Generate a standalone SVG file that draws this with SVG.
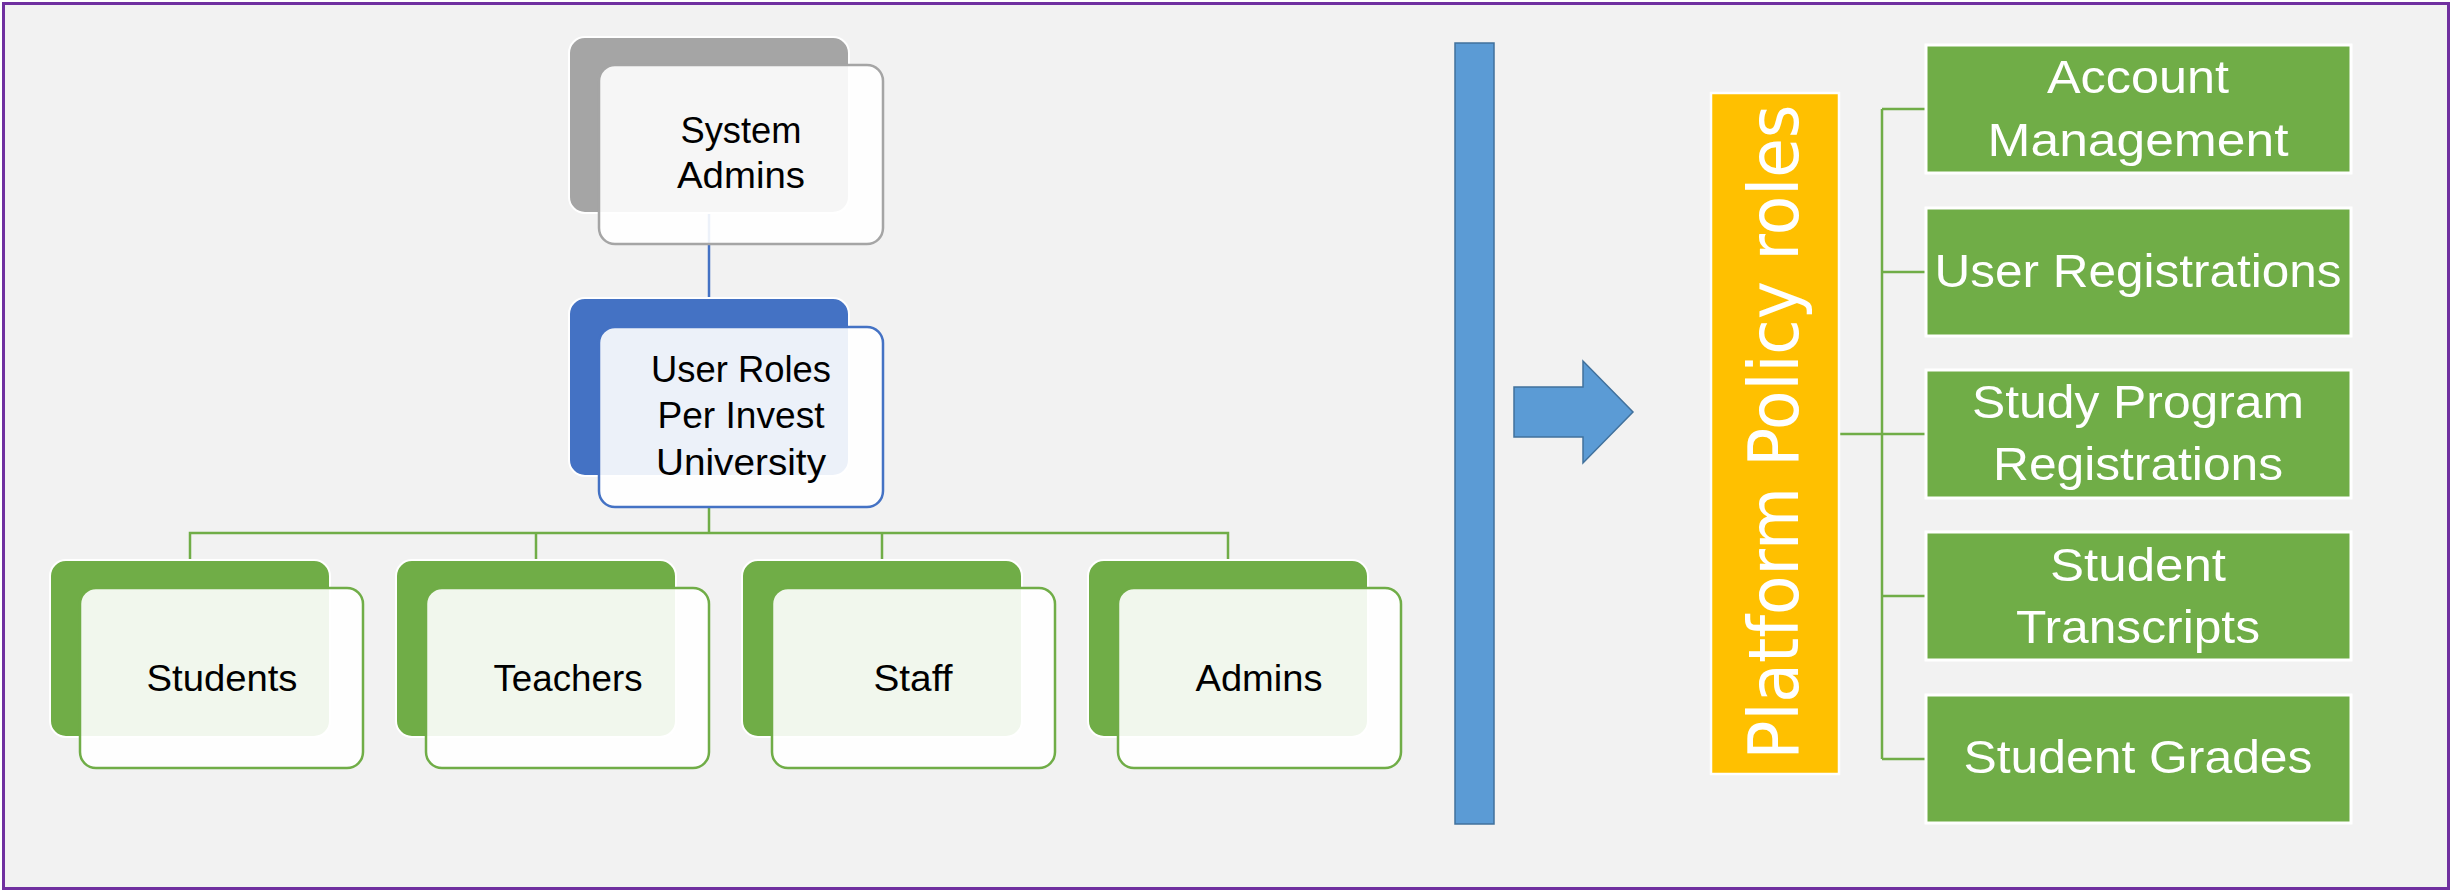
<svg xmlns="http://www.w3.org/2000/svg" width="2453" height="891" viewBox="0 0 2453 891">
<style>
.back{stroke:#ffffff;stroke-width:2}
.front{fill:#ffffff;fill-opacity:0.9;stroke-width:2.5}
.lbl{font-family:"Liberation Sans",Arial,sans-serif;font-size:37px;fill:#000000;text-anchor:middle}
.wl{font-family:"Liberation Sans",Arial,sans-serif;font-size:47px;fill:#ffffff;text-anchor:middle}
.gbox{fill:#70ad47;stroke:#ffffff;stroke-width:3}
.conn{fill:none;stroke-width:2.5}
</style>
<rect x="3.5" y="3.5" width="2445" height="885" fill="#f2f2f2" stroke="#7030a0" stroke-width="3"/>

<g id="connectors">
  <line class="conn" x1="709" y1="213" x2="709" y2="298" stroke="#4472c4"/>
  <path class="conn" d="M709 507 V533 M190 560 V533 H1228 V560 M536 533 V560 M882 533 V560" stroke="#70ad47"/>
  <path class="conn" d="M1839 434 H1882 M1882 109 V759 M1882 109 H1926 M1882 272 H1926 M1882 434 H1926 M1882 596 H1926 M1882 759 H1926" stroke="#70ad47"/>
</g>

<g id="system-admins">
  <rect class="back" x="569" y="37" width="280" height="176" rx="16" fill="#a5a5a5"/>
  <rect class="front" x="599" y="65" width="284" height="179" rx="16" stroke="#a5a5a5"/>
  <text class="lbl" x="741" y="143" textLength="121" lengthAdjust="spacingAndGlyphs">System</text>
  <text class="lbl" x="741" y="188" textLength="128" lengthAdjust="spacingAndGlyphs">Admins</text>
</g>

<g id="user-roles">
  <rect class="back" x="569" y="298" width="280" height="178" rx="16" fill="#4472c4"/>
  <rect class="front" x="599" y="327" width="284" height="180" rx="16" stroke="#4472c4"/>
  <text class="lbl" x="741" y="382" textLength="180" lengthAdjust="spacingAndGlyphs">User Roles</text>
  <text class="lbl" x="741" y="428" textLength="167" lengthAdjust="spacingAndGlyphs">Per Invest</text>
  <text class="lbl" x="741" y="475" textLength="170" lengthAdjust="spacingAndGlyphs">University</text>
</g>

<g id="students">
  <rect class="back" x="50" y="560" width="280" height="177" rx="16" fill="#70ad47"/>
  <rect class="front" x="80" y="588" width="283" height="180" rx="16" stroke="#70ad47"/>
  <text class="lbl" x="222" y="691" textLength="151" lengthAdjust="spacingAndGlyphs">Students</text>
</g>

<g id="teachers">
  <rect class="back" x="396" y="560" width="280" height="177" rx="16" fill="#70ad47"/>
  <rect class="front" x="426" y="588" width="283" height="180" rx="16" stroke="#70ad47"/>
  <text class="lbl" x="568" y="691" textLength="149" lengthAdjust="spacingAndGlyphs">Teachers</text>
</g>

<g id="staff">
  <rect class="back" x="742" y="560" width="280" height="177" rx="16" fill="#70ad47"/>
  <rect class="front" x="772" y="588" width="283" height="180" rx="16" stroke="#70ad47"/>
  <text class="lbl" x="913" y="691" textLength="79" lengthAdjust="spacingAndGlyphs">Staff</text>
</g>

<g id="admins">
  <rect class="back" x="1088" y="560" width="280" height="177" rx="16" fill="#70ad47"/>
  <rect class="front" x="1118" y="588" width="283" height="180" rx="16" stroke="#70ad47"/>
  <text class="lbl" x="1259" y="691" textLength="127" lengthAdjust="spacingAndGlyphs">Admins</text>
</g>

<g id="divider-bar">
  <rect x="1455" y="43" width="39" height="781" fill="#5b9bd5" stroke="#41719c" stroke-width="1.5"/>
</g>

<g id="arrow">
  <path d="M1514 387 H1583 V361 L1633 412 L1583 463 V437 H1514 Z" fill="#5b9bd5" stroke="#41719c" stroke-width="1.5"/>
</g>

<g id="platform-policy-roles">
  <rect x="1711" y="93" width="128" height="681" fill="#ffc000" stroke="#ffffff" stroke-width="2.5"/>
  <text transform="translate(1798,432) rotate(-90)" font-family="'DejaVu Sans',Verdana,sans-serif" font-size="70" fill="#ffffff" text-anchor="middle" textLength="655" lengthAdjust="spacingAndGlyphs">Platform Policy roles</text>
</g>

<g id="account-management">
  <rect class="gbox" x="1926" y="45" width="425" height="128"/>
  <text class="wl" x="2138" y="93" textLength="182" lengthAdjust="spacingAndGlyphs">Account</text>
  <text class="wl" x="2138" y="156" textLength="301" lengthAdjust="spacingAndGlyphs">Management</text>
</g>

<g id="user-registrations">
  <rect class="gbox" x="1926" y="208" width="425" height="128"/>
  <text class="wl" x="2138" y="287" textLength="407" lengthAdjust="spacingAndGlyphs">User Registrations</text>
</g>

<g id="study-program-registrations">
  <rect class="gbox" x="1926" y="370" width="425" height="128"/>
  <text class="wl" x="2138" y="418" textLength="332" lengthAdjust="spacingAndGlyphs">Study Program</text>
  <text class="wl" x="2138" y="480" textLength="290" lengthAdjust="spacingAndGlyphs">Registrations</text>
</g>

<g id="student-transcripts">
  <rect class="gbox" x="1926" y="532" width="425" height="128"/>
  <text class="wl" x="2138" y="581" textLength="176" lengthAdjust="spacingAndGlyphs">Student</text>
  <text class="wl" x="2138" y="643" textLength="244" lengthAdjust="spacingAndGlyphs">Transcripts</text>
</g>

<g id="student-grades">
  <rect class="gbox" x="1926" y="695" width="425" height="128"/>
  <text class="wl" x="2138" y="773" textLength="349" lengthAdjust="spacingAndGlyphs">Student Grades</text>
</g>
</svg>
